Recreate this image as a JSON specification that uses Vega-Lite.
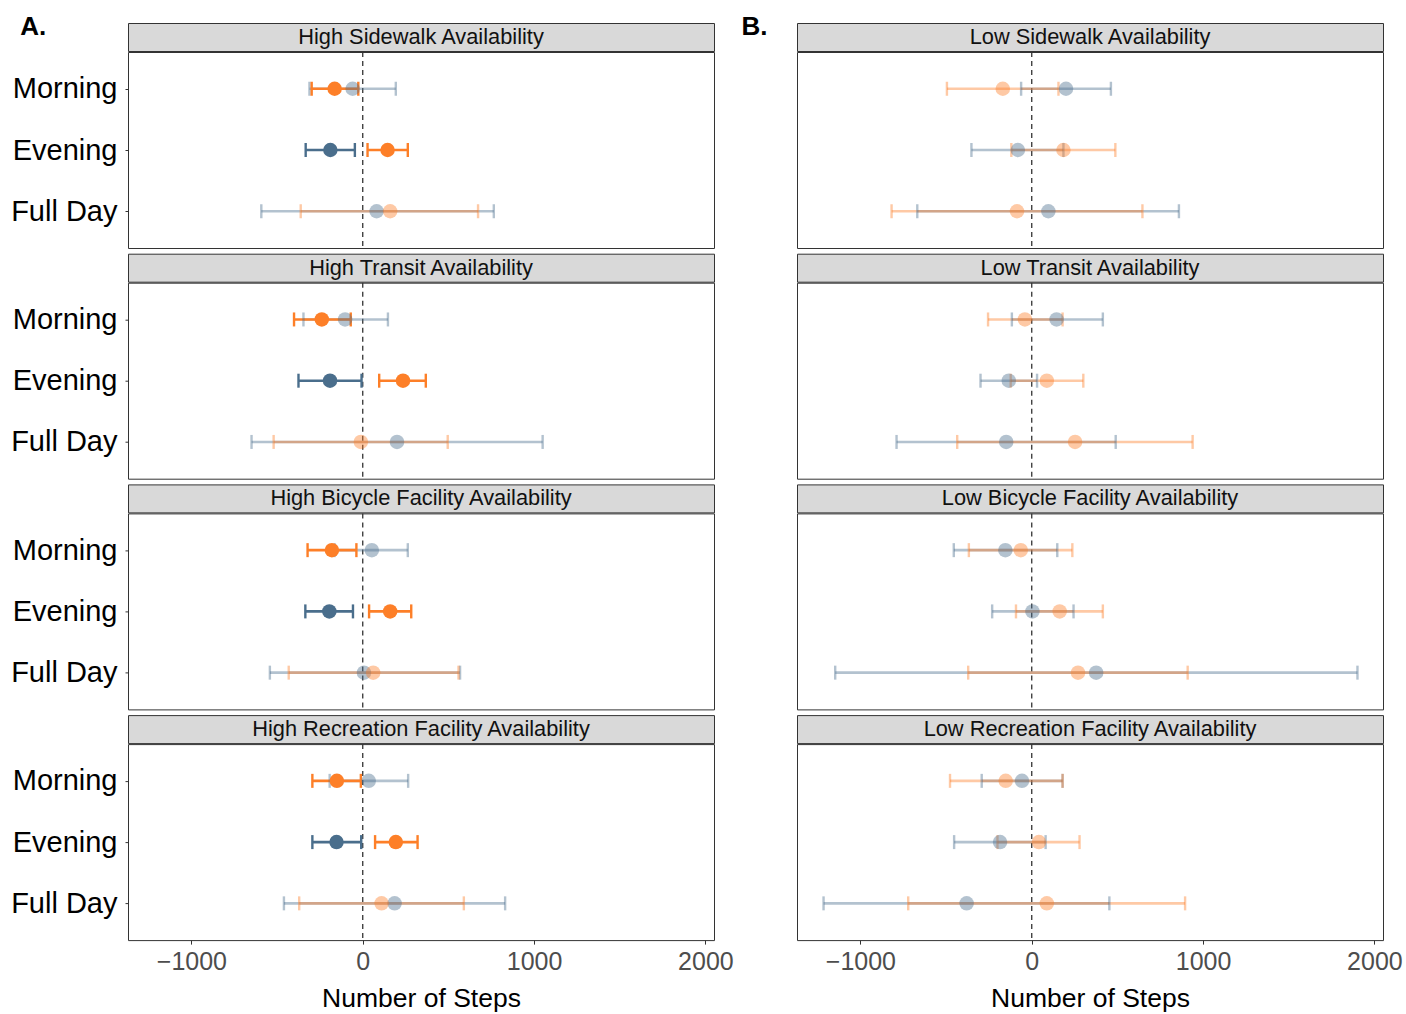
{
"$schema": "https://vega.github.io/schema/vega-lite/v6.json",
"padding": {"left": 10, "top": 13, "right": 0, "bottom": 0},
"background": "white",
"config": {"font": "Liberation Sans", "view": {"stroke": "#333", "strokeWidth": 1}, "title": {"font": "Liberation Sans"}},
"datasets": {"est": [
{"panel":"High Sidewalk Availability","time":"Morning","grp":"G1","est":-59,"lo":-311,"hi":193,"sig":"no"},
{"panel":"High Sidewalk Availability","time":"Morning","grp":"G2","est":-164,"lo":-298,"hi":-26,"sig":"yes"},
{"panel":"High Sidewalk Availability","time":"Evening","grp":"G1","est":-189,"lo":-333,"hi":-46,"sig":"yes"},
{"panel":"High Sidewalk Availability","time":"Evening","grp":"G2","est":145,"lo":28,"hi":263,"sig":"yes"},
{"panel":"High Sidewalk Availability","time":"Full Day","grp":"G1","est":81,"lo":-592,"hi":765,"sig":"no"},
{"panel":"High Sidewalk Availability","time":"Full Day","grp":"G2","est":160,"lo":-362,"hi":673,"sig":"no"},
{"panel":"High Transit Availability","time":"Morning","grp":"G1","est":-103,"lo":-346,"hi":147,"sig":"no"},
{"panel":"High Transit Availability","time":"Morning","grp":"G2","est":-239,"lo":-401,"hi":-70,"sig":"yes"},
{"panel":"High Transit Availability","time":"Evening","grp":"G1","est":-191,"lo":-375,"hi":-7,"sig":"yes"},
{"panel":"High Transit Availability","time":"Evening","grp":"G2","est":235,"lo":96,"hi":368,"sig":"yes"},
{"panel":"High Transit Availability","time":"Full Day","grp":"G1","est":200,"lo":-649,"hi":1050,"sig":"no"},
{"panel":"High Transit Availability","time":"Full Day","grp":"G2","est":-11,"lo":-520,"hi":496,"sig":"no"},
{"panel":"High Bicycle Facility Availability","time":"Morning","grp":"G1","est":53,"lo":-164,"hi":263,"sig":"no"},
{"panel":"High Bicycle Facility Availability","time":"Morning","grp":"G2","est":-180,"lo":-322,"hi":-37,"sig":"yes"},
{"panel":"High Bicycle Facility Availability","time":"Evening","grp":"G1","est":-195,"lo":-335,"hi":-57,"sig":"yes"},
{"panel":"High Bicycle Facility Availability","time":"Evening","grp":"G2","est":160,"lo":37,"hi":283,"sig":"yes"},
{"panel":"High Bicycle Facility Availability","time":"Full Day","grp":"G1","est":7,"lo":-542,"hi":568,"sig":"no"},
{"panel":"High Bicycle Facility Availability","time":"Full Day","grp":"G2","est":61,"lo":-432,"hi":559,"sig":"no"},
{"panel":"High Recreation Facility Availability","time":"Morning","grp":"G1","est":35,"lo":-193,"hi":265,"sig":"no"},
{"panel":"High Recreation Facility Availability","time":"Morning","grp":"G2","est":-151,"lo":-294,"hi":-11,"sig":"yes"},
{"panel":"High Recreation Facility Availability","time":"Evening","grp":"G1","est":-153,"lo":-294,"hi":-9,"sig":"yes"},
{"panel":"High Recreation Facility Availability","time":"Evening","grp":"G2","est":193,"lo":72,"hi":320,"sig":"yes"},
{"panel":"High Recreation Facility Availability","time":"Full Day","grp":"G1","est":186,"lo":-460,"hi":831,"sig":"no"},
{"panel":"High Recreation Facility Availability","time":"Full Day","grp":"G2","est":110,"lo":-371,"hi":590,"sig":"no"},
{"panel":"Low Sidewalk Availability","time":"Morning","grp":"G1","est":200,"lo":-62,"hi":462,"sig":"no"},
{"panel":"Low Sidewalk Availability","time":"Morning","grp":"G2","est":-169,"lo":-495,"hi":156,"sig":"no"},
{"panel":"Low Sidewalk Availability","time":"Evening","grp":"G1","est":-81,"lo":-352,"hi":185,"sig":"no"},
{"panel":"Low Sidewalk Availability","time":"Evening","grp":"G2","est":185,"lo":-119,"hi":488,"sig":"no"},
{"panel":"Low Sidewalk Availability","time":"Full Day","grp":"G1","est":97,"lo":-668,"hi":859,"sig":"no"},
{"panel":"Low Sidewalk Availability","time":"Full Day","grp":"G2","est":-86,"lo":-818,"hi":646,"sig":"no"},
{"panel":"Low Transit Availability","time":"Morning","grp":"G1","est":145,"lo":-116,"hi":415,"sig":"no"},
{"panel":"Low Transit Availability","time":"Morning","grp":"G2","est":-40,"lo":-255,"hi":180,"sig":"no"},
{"panel":"Low Transit Availability","time":"Evening","grp":"G1","est":-134,"lo":-299,"hi":31,"sig":"no"},
{"panel":"Low Transit Availability","time":"Evening","grp":"G2","est":88,"lo":-123,"hi":301,"sig":"no"},
{"panel":"Low Transit Availability","time":"Full Day","grp":"G1","est":-149,"lo":-789,"hi":490,"sig":"no"},
{"panel":"Low Transit Availability","time":"Full Day","grp":"G2","est":253,"lo":-435,"hi":939,"sig":"no"},
{"panel":"Low Bicycle Facility Availability","time":"Morning","grp":"G1","est":-154,"lo":-455,"hi":149,"sig":"no"},
{"panel":"Low Bicycle Facility Availability","time":"Morning","grp":"G2","est":-64,"lo":-367,"hi":237,"sig":"no"},
{"panel":"Low Bicycle Facility Availability","time":"Evening","grp":"G1","est":4,"lo":-231,"hi":244,"sig":"no"},
{"panel":"Low Bicycle Facility Availability","time":"Evening","grp":"G2","est":163,"lo":-92,"hi":415,"sig":"no"},
{"panel":"Low Bicycle Facility Availability","time":"Full Day","grp":"G1","est":376,"lo":-1147,"hi":1901,"sig":"no"},
{"panel":"Low Bicycle Facility Availability","time":"Full Day","grp":"G2","est":270,"lo":-371,"hi":910,"sig":"no"},
{"panel":"Low Recreation Facility Availability","time":"Morning","grp":"G1","est":-57,"lo":-292,"hi":180,"sig":"no"},
{"panel":"Low Recreation Facility Availability","time":"Morning","grp":"G2","est":-152,"lo":-477,"hi":180,"sig":"no"},
{"panel":"Low Recreation Facility Availability","time":"Evening","grp":"G1","est":-185,"lo":-453,"hi":81,"sig":"no"},
{"panel":"Low Recreation Facility Availability","time":"Evening","grp":"G2","est":42,"lo":-200,"hi":279,"sig":"no"},
{"panel":"Low Recreation Facility Availability","time":"Full Day","grp":"G1","est":-380,"lo":-1215,"hi":453,"sig":"no"},
{"panel":"Low Recreation Facility Availability","time":"Full Day","grp":"G2","est":88,"lo":-721,"hi":895,"sig":"no"}
]},
"spacing": 7,
"hconcat": [
{"title": {"text": "A.", "anchor": "start", "fontSize": 26, "fontWeight": "bold", "color": "#000", "dx": 10, "offset": -17},
 "spacing": 2.7,
 "vconcat": [
  {"spacing": -3.5, "vconcat": [
   {"width": 586, "height": 28, "view": {"fill": "#d9d9d9", "stroke": "#333"}, "data": {"values": [{"t": "High Sidewalk Availability"}]}, "mark": {"type": "text", "fontSize": 21.8, "color": "#111"}, "encoding": {"text": {"field": "t", "type": "nominal"}}},
   {"width": 586, "height": 196, "data": {"name": "est"}, "transform": [{"filter": "datum.panel === 'High Sidewalk Availability'"}],
    "layer": [
     {"data": {"values": [{"z": 0}]}, "mark": {"type": "rule", "strokeDash": [5, 4], "color": "#333", "strokeWidth": 1.3}, "encoding": {"x": {"field": "z", "type": "quantitative", "scale": {"domain": [-1370, 2050], "nice": false, "zero": false}, "axis": null}}},
     {"mark": {"type": "rule", "strokeWidth": 2.6}, "encoding": {"x": {"field": "lo", "type": "quantitative", "scale": {"domain": [-1370, 2050], "nice": false, "zero": false}, "axis": null}, "x2": {"field": "hi"}, "y": {"field": "time", "type": "nominal", "scale": {"type": "point", "domain": ["Morning", "Evening", "Full Day"], "padding": 0.6}, "axis": {"title": null, "labelFontSize": 29, "labelColor": "#000", "tickSize": 3, "tickColor": "#333", "labelPadding": 8, "domain": false, "grid": false}}, "color": {"field": "grp", "type": "nominal", "scale": {"domain": ["G1", "G2"], "range": ["#4a6e8c", "#fd7f28"]}, "legend": null}, "opacity": {"field": "sig", "type": "nominal", "scale": {"domain": ["yes", "no"], "range": [1, 0.42]}, "legend": null}}},
     {"mark": {"type": "tick", "thickness": 2.4, "size": 14}, "encoding": {"x": {"field": "lo", "type": "quantitative"}, "y": {"field": "time", "type": "nominal"}, "color": {"field": "grp", "type": "nominal"}, "opacity": {"field": "sig", "type": "nominal"}}},
     {"mark": {"type": "tick", "thickness": 2.4, "size": 14}, "encoding": {"x": {"field": "hi", "type": "quantitative"}, "y": {"field": "time", "type": "nominal"}, "color": {"field": "grp", "type": "nominal"}, "opacity": {"field": "sig", "type": "nominal"}}},
     {"mark": {"type": "circle", "size": 210}, "encoding": {"x": {"field": "est", "type": "quantitative"}, "y": {"field": "time", "type": "nominal"}, "color": {"field": "grp", "type": "nominal"}, "opacity": {"field": "sig", "type": "nominal"}}}
    ]}
  ]},
  {"spacing": -3.5, "vconcat": [
   {"width": 586, "height": 28, "view": {"fill": "#d9d9d9", "stroke": "#333"}, "data": {"values": [{"t": "High Transit Availability"}]}, "mark": {"type": "text", "fontSize": 21.8, "color": "#111"}, "encoding": {"text": {"field": "t", "type": "nominal"}}},
   {"width": 586, "height": 196, "data": {"name": "est"}, "transform": [{"filter": "datum.panel === 'High Transit Availability'"}],
    "layer": [
     {"data": {"values": [{"z": 0}]}, "mark": {"type": "rule", "strokeDash": [5, 4], "color": "#333", "strokeWidth": 1.3}, "encoding": {"x": {"field": "z", "type": "quantitative", "scale": {"domain": [-1370, 2050], "nice": false, "zero": false}, "axis": null}}},
     {"mark": {"type": "rule", "strokeWidth": 2.6}, "encoding": {"x": {"field": "lo", "type": "quantitative", "scale": {"domain": [-1370, 2050], "nice": false, "zero": false}, "axis": null}, "x2": {"field": "hi"}, "y": {"field": "time", "type": "nominal", "scale": {"type": "point", "domain": ["Morning", "Evening", "Full Day"], "padding": 0.6}, "axis": {"title": null, "labelFontSize": 29, "labelColor": "#000", "tickSize": 3, "tickColor": "#333", "labelPadding": 8, "domain": false, "grid": false}}, "color": {"field": "grp", "type": "nominal", "scale": {"domain": ["G1", "G2"], "range": ["#4a6e8c", "#fd7f28"]}, "legend": null}, "opacity": {"field": "sig", "type": "nominal", "scale": {"domain": ["yes", "no"], "range": [1, 0.42]}, "legend": null}}},
     {"mark": {"type": "tick", "thickness": 2.4, "size": 14}, "encoding": {"x": {"field": "lo", "type": "quantitative"}, "y": {"field": "time", "type": "nominal"}, "color": {"field": "grp", "type": "nominal"}, "opacity": {"field": "sig", "type": "nominal"}}},
     {"mark": {"type": "tick", "thickness": 2.4, "size": 14}, "encoding": {"x": {"field": "hi", "type": "quantitative"}, "y": {"field": "time", "type": "nominal"}, "color": {"field": "grp", "type": "nominal"}, "opacity": {"field": "sig", "type": "nominal"}}},
     {"mark": {"type": "circle", "size": 210}, "encoding": {"x": {"field": "est", "type": "quantitative"}, "y": {"field": "time", "type": "nominal"}, "color": {"field": "grp", "type": "nominal"}, "opacity": {"field": "sig", "type": "nominal"}}}
    ]}
  ]},
  {"spacing": -3.5, "vconcat": [
   {"width": 586, "height": 28, "view": {"fill": "#d9d9d9", "stroke": "#333"}, "data": {"values": [{"t": "High Bicycle Facility Availability"}]}, "mark": {"type": "text", "fontSize": 21.8, "color": "#111"}, "encoding": {"text": {"field": "t", "type": "nominal"}}},
   {"width": 586, "height": 196, "data": {"name": "est"}, "transform": [{"filter": "datum.panel === 'High Bicycle Facility Availability'"}],
    "layer": [
     {"data": {"values": [{"z": 0}]}, "mark": {"type": "rule", "strokeDash": [5, 4], "color": "#333", "strokeWidth": 1.3}, "encoding": {"x": {"field": "z", "type": "quantitative", "scale": {"domain": [-1370, 2050], "nice": false, "zero": false}, "axis": null}}},
     {"mark": {"type": "rule", "strokeWidth": 2.6}, "encoding": {"x": {"field": "lo", "type": "quantitative", "scale": {"domain": [-1370, 2050], "nice": false, "zero": false}, "axis": null}, "x2": {"field": "hi"}, "y": {"field": "time", "type": "nominal", "scale": {"type": "point", "domain": ["Morning", "Evening", "Full Day"], "padding": 0.6}, "axis": {"title": null, "labelFontSize": 29, "labelColor": "#000", "tickSize": 3, "tickColor": "#333", "labelPadding": 8, "domain": false, "grid": false}}, "color": {"field": "grp", "type": "nominal", "scale": {"domain": ["G1", "G2"], "range": ["#4a6e8c", "#fd7f28"]}, "legend": null}, "opacity": {"field": "sig", "type": "nominal", "scale": {"domain": ["yes", "no"], "range": [1, 0.42]}, "legend": null}}},
     {"mark": {"type": "tick", "thickness": 2.4, "size": 14}, "encoding": {"x": {"field": "lo", "type": "quantitative"}, "y": {"field": "time", "type": "nominal"}, "color": {"field": "grp", "type": "nominal"}, "opacity": {"field": "sig", "type": "nominal"}}},
     {"mark": {"type": "tick", "thickness": 2.4, "size": 14}, "encoding": {"x": {"field": "hi", "type": "quantitative"}, "y": {"field": "time", "type": "nominal"}, "color": {"field": "grp", "type": "nominal"}, "opacity": {"field": "sig", "type": "nominal"}}},
     {"mark": {"type": "circle", "size": 210}, "encoding": {"x": {"field": "est", "type": "quantitative"}, "y": {"field": "time", "type": "nominal"}, "color": {"field": "grp", "type": "nominal"}, "opacity": {"field": "sig", "type": "nominal"}}}
    ]}
  ]},
  {"spacing": -3.5, "vconcat": [
   {"width": 586, "height": 28, "view": {"fill": "#d9d9d9", "stroke": "#333"}, "data": {"values": [{"t": "High Recreation Facility Availability"}]}, "mark": {"type": "text", "fontSize": 21.8, "color": "#111"}, "encoding": {"text": {"field": "t", "type": "nominal"}}},
   {"width": 586, "height": 196, "data": {"name": "est"}, "transform": [{"filter": "datum.panel === 'High Recreation Facility Availability'"}],
    "layer": [
     {"data": {"values": [{"z": 0}]}, "mark": {"type": "rule", "strokeDash": [5, 4], "color": "#333", "strokeWidth": 1.3}, "encoding": {"x": {"field": "z", "type": "quantitative", "scale": {"domain": [-1370, 2050], "nice": false, "zero": false}, "axis": {"title": "Number of Steps", "values": [-1000, 0, 1000, 2000], "format": "d", "labelFontSize": 25, "labelColor": "#4d4d4d", "tickSize": 4, "tickColor": "#333", "labelPadding": 5, "titleFontSize": 26.5, "titleFontWeight": "normal", "titleColor": "#000", "titlePadding": 11, "domain": false, "grid": false, "labelFlush": false, "labelOverlap": false}}}},
     {"mark": {"type": "rule", "strokeWidth": 2.6}, "encoding": {"x": {"field": "lo", "type": "quantitative", "scale": {"domain": [-1370, 2050], "nice": false, "zero": false}}, "x2": {"field": "hi"}, "y": {"field": "time", "type": "nominal", "scale": {"type": "point", "domain": ["Morning", "Evening", "Full Day"], "padding": 0.6}, "axis": {"title": null, "labelFontSize": 29, "labelColor": "#000", "tickSize": 3, "tickColor": "#333", "labelPadding": 8, "domain": false, "grid": false}}, "color": {"field": "grp", "type": "nominal", "scale": {"domain": ["G1", "G2"], "range": ["#4a6e8c", "#fd7f28"]}, "legend": null}, "opacity": {"field": "sig", "type": "nominal", "scale": {"domain": ["yes", "no"], "range": [1, 0.42]}, "legend": null}}},
     {"mark": {"type": "tick", "thickness": 2.4, "size": 14}, "encoding": {"x": {"field": "lo", "type": "quantitative"}, "y": {"field": "time", "type": "nominal"}, "color": {"field": "grp", "type": "nominal"}, "opacity": {"field": "sig", "type": "nominal"}}},
     {"mark": {"type": "tick", "thickness": 2.4, "size": 14}, "encoding": {"x": {"field": "hi", "type": "quantitative"}, "y": {"field": "time", "type": "nominal"}, "color": {"field": "grp", "type": "nominal"}, "opacity": {"field": "sig", "type": "nominal"}}},
     {"mark": {"type": "circle", "size": 210}, "encoding": {"x": {"field": "est", "type": "quantitative"}, "y": {"field": "time", "type": "nominal"}, "color": {"field": "grp", "type": "nominal"}, "opacity": {"field": "sig", "type": "nominal"}}}
    ]}
  ]}
 ]},
{"title": {"text": "B.", "anchor": "start", "fontSize": 26, "fontWeight": "bold", "color": "#000", "dx": -55, "offset": -17},
 "spacing": 2.7,
 "vconcat": [
  {"spacing": -3.5, "vconcat": [
   {"width": 586, "height": 28, "view": {"fill": "#d9d9d9", "stroke": "#333"}, "data": {"values": [{"t": "Low Sidewalk Availability"}]}, "mark": {"type": "text", "fontSize": 21.8, "color": "#111"}, "encoding": {"text": {"field": "t", "type": "nominal"}}},
   {"width": 586, "height": 196, "data": {"name": "est"}, "transform": [{"filter": "datum.panel === 'Low Sidewalk Availability'"}],
    "layer": [
     {"data": {"values": [{"z": 0}]}, "mark": {"type": "rule", "strokeDash": [5, 4], "color": "#333", "strokeWidth": 1.3}, "encoding": {"x": {"field": "z", "type": "quantitative", "scale": {"domain": [-1370, 2050], "nice": false, "zero": false}, "axis": null}}},
     {"mark": {"type": "rule", "strokeWidth": 2.6}, "encoding": {"x": {"field": "lo", "type": "quantitative", "scale": {"domain": [-1370, 2050], "nice": false, "zero": false}, "axis": null}, "x2": {"field": "hi"}, "y": {"field": "time", "type": "nominal", "scale": {"type": "point", "domain": ["Morning", "Evening", "Full Day"], "padding": 0.6}, "axis": null}, "color": {"field": "grp", "type": "nominal", "scale": {"domain": ["G1", "G2"], "range": ["#4a6e8c", "#fd7f28"]}, "legend": null}, "opacity": {"field": "sig", "type": "nominal", "scale": {"domain": ["yes", "no"], "range": [1, 0.42]}, "legend": null}}},
     {"mark": {"type": "tick", "thickness": 2.4, "size": 14}, "encoding": {"x": {"field": "lo", "type": "quantitative"}, "y": {"field": "time", "type": "nominal"}, "color": {"field": "grp", "type": "nominal"}, "opacity": {"field": "sig", "type": "nominal"}}},
     {"mark": {"type": "tick", "thickness": 2.4, "size": 14}, "encoding": {"x": {"field": "hi", "type": "quantitative"}, "y": {"field": "time", "type": "nominal"}, "color": {"field": "grp", "type": "nominal"}, "opacity": {"field": "sig", "type": "nominal"}}},
     {"mark": {"type": "circle", "size": 210}, "encoding": {"x": {"field": "est", "type": "quantitative"}, "y": {"field": "time", "type": "nominal"}, "color": {"field": "grp", "type": "nominal"}, "opacity": {"field": "sig", "type": "nominal"}}}
    ]}
  ]},
  {"spacing": -3.5, "vconcat": [
   {"width": 586, "height": 28, "view": {"fill": "#d9d9d9", "stroke": "#333"}, "data": {"values": [{"t": "Low Transit Availability"}]}, "mark": {"type": "text", "fontSize": 21.8, "color": "#111"}, "encoding": {"text": {"field": "t", "type": "nominal"}}},
   {"width": 586, "height": 196, "data": {"name": "est"}, "transform": [{"filter": "datum.panel === 'Low Transit Availability'"}],
    "layer": [
     {"data": {"values": [{"z": 0}]}, "mark": {"type": "rule", "strokeDash": [5, 4], "color": "#333", "strokeWidth": 1.3}, "encoding": {"x": {"field": "z", "type": "quantitative", "scale": {"domain": [-1370, 2050], "nice": false, "zero": false}, "axis": null}}},
     {"mark": {"type": "rule", "strokeWidth": 2.6}, "encoding": {"x": {"field": "lo", "type": "quantitative", "scale": {"domain": [-1370, 2050], "nice": false, "zero": false}, "axis": null}, "x2": {"field": "hi"}, "y": {"field": "time", "type": "nominal", "scale": {"type": "point", "domain": ["Morning", "Evening", "Full Day"], "padding": 0.6}, "axis": null}, "color": {"field": "grp", "type": "nominal", "scale": {"domain": ["G1", "G2"], "range": ["#4a6e8c", "#fd7f28"]}, "legend": null}, "opacity": {"field": "sig", "type": "nominal", "scale": {"domain": ["yes", "no"], "range": [1, 0.42]}, "legend": null}}},
     {"mark": {"type": "tick", "thickness": 2.4, "size": 14}, "encoding": {"x": {"field": "lo", "type": "quantitative"}, "y": {"field": "time", "type": "nominal"}, "color": {"field": "grp", "type": "nominal"}, "opacity": {"field": "sig", "type": "nominal"}}},
     {"mark": {"type": "tick", "thickness": 2.4, "size": 14}, "encoding": {"x": {"field": "hi", "type": "quantitative"}, "y": {"field": "time", "type": "nominal"}, "color": {"field": "grp", "type": "nominal"}, "opacity": {"field": "sig", "type": "nominal"}}},
     {"mark": {"type": "circle", "size": 210}, "encoding": {"x": {"field": "est", "type": "quantitative"}, "y": {"field": "time", "type": "nominal"}, "color": {"field": "grp", "type": "nominal"}, "opacity": {"field": "sig", "type": "nominal"}}}
    ]}
  ]},
  {"spacing": -3.5, "vconcat": [
   {"width": 586, "height": 28, "view": {"fill": "#d9d9d9", "stroke": "#333"}, "data": {"values": [{"t": "Low Bicycle Facility Availability"}]}, "mark": {"type": "text", "fontSize": 21.8, "color": "#111"}, "encoding": {"text": {"field": "t", "type": "nominal"}}},
   {"width": 586, "height": 196, "data": {"name": "est"}, "transform": [{"filter": "datum.panel === 'Low Bicycle Facility Availability'"}],
    "layer": [
     {"data": {"values": [{"z": 0}]}, "mark": {"type": "rule", "strokeDash": [5, 4], "color": "#333", "strokeWidth": 1.3}, "encoding": {"x": {"field": "z", "type": "quantitative", "scale": {"domain": [-1370, 2050], "nice": false, "zero": false}, "axis": null}}},
     {"mark": {"type": "rule", "strokeWidth": 2.6}, "encoding": {"x": {"field": "lo", "type": "quantitative", "scale": {"domain": [-1370, 2050], "nice": false, "zero": false}, "axis": null}, "x2": {"field": "hi"}, "y": {"field": "time", "type": "nominal", "scale": {"type": "point", "domain": ["Morning", "Evening", "Full Day"], "padding": 0.6}, "axis": null}, "color": {"field": "grp", "type": "nominal", "scale": {"domain": ["G1", "G2"], "range": ["#4a6e8c", "#fd7f28"]}, "legend": null}, "opacity": {"field": "sig", "type": "nominal", "scale": {"domain": ["yes", "no"], "range": [1, 0.42]}, "legend": null}}},
     {"mark": {"type": "tick", "thickness": 2.4, "size": 14}, "encoding": {"x": {"field": "lo", "type": "quantitative"}, "y": {"field": "time", "type": "nominal"}, "color": {"field": "grp", "type": "nominal"}, "opacity": {"field": "sig", "type": "nominal"}}},
     {"mark": {"type": "tick", "thickness": 2.4, "size": 14}, "encoding": {"x": {"field": "hi", "type": "quantitative"}, "y": {"field": "time", "type": "nominal"}, "color": {"field": "grp", "type": "nominal"}, "opacity": {"field": "sig", "type": "nominal"}}},
     {"mark": {"type": "circle", "size": 210}, "encoding": {"x": {"field": "est", "type": "quantitative"}, "y": {"field": "time", "type": "nominal"}, "color": {"field": "grp", "type": "nominal"}, "opacity": {"field": "sig", "type": "nominal"}}}
    ]}
  ]},
  {"spacing": -3.5, "vconcat": [
   {"width": 586, "height": 28, "view": {"fill": "#d9d9d9", "stroke": "#333"}, "data": {"values": [{"t": "Low Recreation Facility Availability"}]}, "mark": {"type": "text", "fontSize": 21.8, "color": "#111"}, "encoding": {"text": {"field": "t", "type": "nominal"}}},
   {"width": 586, "height": 196, "data": {"name": "est"}, "transform": [{"filter": "datum.panel === 'Low Recreation Facility Availability'"}],
    "layer": [
     {"data": {"values": [{"z": 0}]}, "mark": {"type": "rule", "strokeDash": [5, 4], "color": "#333", "strokeWidth": 1.3}, "encoding": {"x": {"field": "z", "type": "quantitative", "scale": {"domain": [-1370, 2050], "nice": false, "zero": false}, "axis": {"title": "Number of Steps", "values": [-1000, 0, 1000, 2000], "format": "d", "labelFontSize": 25, "labelColor": "#4d4d4d", "tickSize": 4, "tickColor": "#333", "labelPadding": 5, "titleFontSize": 26.5, "titleFontWeight": "normal", "titleColor": "#000", "titlePadding": 11, "domain": false, "grid": false, "labelFlush": false, "labelOverlap": false}}}},
     {"mark": {"type": "rule", "strokeWidth": 2.6}, "encoding": {"x": {"field": "lo", "type": "quantitative", "scale": {"domain": [-1370, 2050], "nice": false, "zero": false}}, "x2": {"field": "hi"}, "y": {"field": "time", "type": "nominal", "scale": {"type": "point", "domain": ["Morning", "Evening", "Full Day"], "padding": 0.6}, "axis": null}, "color": {"field": "grp", "type": "nominal", "scale": {"domain": ["G1", "G2"], "range": ["#4a6e8c", "#fd7f28"]}, "legend": null}, "opacity": {"field": "sig", "type": "nominal", "scale": {"domain": ["yes", "no"], "range": [1, 0.42]}, "legend": null}}},
     {"mark": {"type": "tick", "thickness": 2.4, "size": 14}, "encoding": {"x": {"field": "lo", "type": "quantitative"}, "y": {"field": "time", "type": "nominal"}, "color": {"field": "grp", "type": "nominal"}, "opacity": {"field": "sig", "type": "nominal"}}},
     {"mark": {"type": "tick", "thickness": 2.4, "size": 14}, "encoding": {"x": {"field": "hi", "type": "quantitative"}, "y": {"field": "time", "type": "nominal"}, "color": {"field": "grp", "type": "nominal"}, "opacity": {"field": "sig", "type": "nominal"}}},
     {"mark": {"type": "circle", "size": 210}, "encoding": {"x": {"field": "est", "type": "quantitative"}, "y": {"field": "time", "type": "nominal"}, "color": {"field": "grp", "type": "nominal"}, "opacity": {"field": "sig", "type": "nominal"}}}
    ]}
  ]}
 ]}
]
}
